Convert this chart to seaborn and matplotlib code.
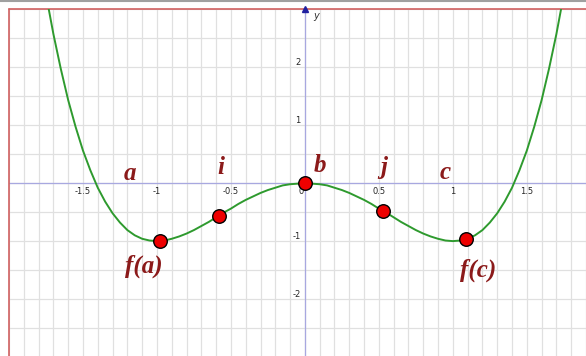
"""
quartic curve y = x^4 - 2x^2 with marked points, GeoGebra style
"""

import matplotlib.pyplot as plt
import matplotlib.lines as mlines
from matplotlib.ticker import MultipleLocator
import pandas as pd
import seaborn as sns

# curve values
curve_x = [-1.8, -1.75, -1.7, -1.65, -1.6, -1.55, -1.5, -1.45, -1.4, -1.35,
           -1.3, -1.25, -1.2, -1.15, -1.1, -1.05, -1.0, -0.95, -0.9, -0.85,
           -0.8, -0.75, -0.7, -0.65, -0.6, -0.55, -0.5, -0.45, -0.4, -0.35,
           -0.3, -0.25, -0.2, -0.15, -0.1, -0.05, 0.0,
           0.05, 0.1, 0.15, 0.2, 0.25, 0.3, 0.35, 0.4, 0.45, 0.5,
           0.55, 0.6, 0.65, 0.7, 0.75, 0.8, 0.85, 0.9, 0.95, 1.0,
           1.05, 1.1, 1.15, 1.2, 1.25, 1.3, 1.35, 1.4, 1.45, 1.5,
           1.55, 1.6, 1.65, 1.7, 1.75, 1.8]
curve_y = [4.02, 3.25, 2.57, 1.97, 1.43, 0.97, 0.56, 0.22, -0.08, -0.32,
           -0.52, -0.68, -0.81, -0.90, -0.96, -0.99, -1.0, -0.99, -0.96, -0.92,
           -0.87, -0.81, -0.74, -0.67, -0.59, -0.51, -0.44, -0.36, -0.29, -0.23,
           -0.17, -0.12, -0.08, -0.04, -0.02, -0.01, 0.0,
           -0.01, -0.02, -0.04, -0.08, -0.12, -0.17, -0.23, -0.29, -0.36, -0.44,
           -0.51, -0.59, -0.67, -0.74, -0.81, -0.87, -0.92, -0.96, -0.99, -1.0,
           -0.99, -0.96, -0.90, -0.81, -0.68, -0.52, -0.32, -0.08, 0.22, 0.56,
           0.97, 1.43, 1.97, 2.57, 3.25, 4.02]

# marked points
point_x = [-0.98, -0.58, 0.0, 0.53, 1.09]
point_y = [-1.0, -0.56, 0.0, -0.48, -0.96]

# labels
label_text = ["a", "i", "b", "j", "c", "f(a)", "f(c)"]
label_x = [-1.18, -0.57, 0.10, 0.53, 0.95, -1.09, 1.17]
label_y = [0.16, 0.26, 0.31, 0.26, 0.19, -1.43, -1.51]

xtick_vals = [-1.5, -1, -0.5, 0.5, 1, 1.5]
ytick_vals = [-2, -1, 1, 2]

sns.set_style("white")
plt.rcParams["axes.unicode_minus"] = False

fig = plt.figure(figsize=(5.86, 3.56), dpi=100)
ax = fig.add_axes([9 / 586, 0, 577 / 586, 347 / 356])

curve = pd.DataFrame({"x": curve_x, "y": curve_y})
pts = pd.DataFrame({"x": point_x, "y": point_y})

sns.lineplot(data=curve, x="x", y="y", ax=ax, color="#2e9a2e", lw=1.4,
             sort=False, zorder=3)
sns.scatterplot(data=pts, x="x", y="y", ax=ax, color="#ee0000", s=95,
                edgecolor="black", linewidth=1.0, zorder=5)

ax.set_xlim(-2.0, 1.90)
ax.set_ylim(-2.98, 3.0)

# grid
ax.xaxis.set_minor_locator(MultipleLocator(0.1))
ax.yaxis.set_minor_locator(MultipleLocator(0.5))
ax.grid(which="both", color="#e0e0e0", lw=0.9)
ax.set_axisbelow(True)

# axes through the origin
for side in ["right", "bottom", "left", "top"]:
    ax.spines[side].set_visible(False)
ax.axhline(0, color="#a8a8e0", lw=0.9, zorder=2)
ax.axvline(0, color="#a8a8e0", lw=0.9, zorder=2)
ax.set_xticks([])
ax.set_yticks([])
ax.tick_params(which="both", length=0)
ax.set_xlabel("")
ax.set_ylabel("")

for v in xtick_vals:
    ax.text(v, -0.07, f"{v:g}", fontsize=6, ha="center", va="top", zorder=4)
for v in ytick_vals:
    ax.text(-0.03, v + 0.08, f"{v:g}", fontsize=6, ha="right", va="center",
            zorder=4)
ax.text(-0.01, -0.07, "0", fontsize=6, ha="right", va="top", zorder=4)

# y arrow and label
ax.plot([0], [1.0], marker="^", color="#2020a0", markersize=5,
        transform=ax.get_xaxis_transform(), clip_on=False, zorder=6)
ax.text(0.055, 2.88, "y", fontsize=7, style="italic", color="#333333",
        va="center", ha="left")

# frame: red left and top border
ax.plot([0, 0], [0, 1], color="#d06060", lw=1.2, transform=ax.transAxes,
        clip_on=False)
ax.plot([0, 1], [1, 1], color="#d06060", lw=1.2, transform=ax.transAxes,
        clip_on=False)
fig.add_artist(mlines.Line2D([0, 1], [0.998, 0.998], color="#a0a0a0",
                             lw=1.5, transform=fig.transFigure))

for t, x, y in zip(label_text, label_x, label_y):
    ax.text(x, y, t, fontsize=18, family="Liberation Serif", weight="bold",
            style="italic", color="#8b1a1a", ha="center", va="center",
            zorder=6)

fig.savefig("out.png", dpi=100)
